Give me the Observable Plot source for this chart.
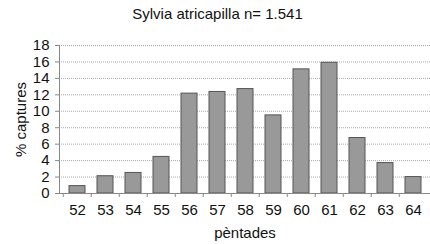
<!DOCTYPE html>
<html>
<head>
<meta charset="utf-8">
<script src="https://cdn.jsdelivr.net/npm/d3@7"></script>
<script src="https://cdn.jsdelivr.net/npm/@observablehq/plot@0.6"></script>
<style>
  body { margin: 0; background: #fff; font-family: Arial, "Liberation Sans", sans-serif; }
  #wrap { position: relative; width: 430px; height: 244px; }
  #title { position: absolute; left: 0; width: 435px; top: 5px; text-align: center; font-size: 15px; color: #111; }
</style>
</head>
<body>
<div id="wrap">
  <div id="title">Sylvia atricapilla n= 1.541</div>
  <div id="chart"></div>
</div>
<script>
const pentades = ["52","53","54","55","56","57","58","59","60","61","62","63","64"];
const captures = [0.9, 2.1, 2.5, 4.45, 12.15, 12.35, 12.7, 9.5, 15.1, 15.9, 6.75, 3.7, 2.0];
const yTicks = [0, 2, 4, 6, 8, 10, 12, 14, 16, 18];

const data = pentades.map((p, i) => ({pentada: p, value: captures[i]}));

const W = 430, ML = 59, MR = 0;
const step = (W - ML - MR) / pentades.length;

const chart = Plot.plot({
  width: W,
  height: 244,
  marginLeft: ML,
  marginRight: MR,
  marginTop: 45,
  marginBottom: 51,
  style: {fontFamily: "Arial, 'Liberation Sans', sans-serif", fontSize: "15px", color: "#111", background: "#fff"},
  x: {domain: pentades, paddingInner: 0.44, paddingOuter: 0.22, label: null},
  y: {domain: [0, 18], label: null},
  marks: [
    Plot.gridY(yTicks.slice(1), {stroke: "#aaa", strokeOpacity: 1, strokeDasharray: "1,1", strokeWidth: 1}),
    Plot.barY(data, {x: "pentada", y: "value", fill: "#999", stroke: "#555", strokeWidth: 1}),
    Plot.ruleY([0], {stroke: "#888"}),
    Plot.frame({anchor: "left", stroke: "#888"}),
    Plot.axisY({ticks: yTicks, tickSize: 4, tickPadding: 6, stroke: "#888", fontSize: 15,
      label: "% captures", labelAnchor: "center", labelOffset: 44, labelArrow: "none"}),
    Plot.axisX({tickSize: 0, tickPadding: 11, fontSize: 15,
      label: "pèntades", labelAnchor: "center", labelOffset: 44, labelArrow: "none"}),
    Plot.axisX({tickSize: 4, tickFormat: () => "", label: null, dx: -step / 2, stroke: "#888"})
  ]
});
document.getElementById("chart").appendChild(chart);
</script>
</body>
</html>
